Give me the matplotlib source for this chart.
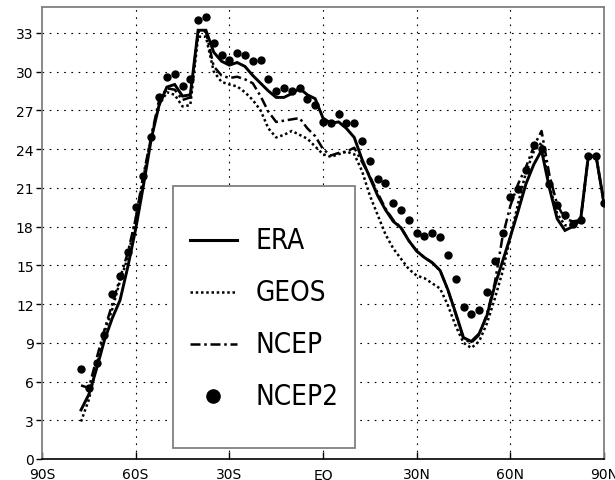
import numpy as np
import matplotlib
matplotlib.use("Agg")
import matplotlib.pyplot as plt
from matplotlib.patches import Rectangle
from matplotlib.lines import Line2D

# latitude grid (2.5 deg), 77.5S .. 90N
lats = np.arange(-77.5, 90.1, 2.5)

era = [3.8, 5.0, 7.0, 9.2, 10.9, 12.3, 14.9, 17.8, 21.2, 24.8,
       27.4, 28.8, 29.0, 28.1, 28.2, 33.2, 33.2, 31.5, 30.8, 30.5,
       30.7, 30.4, 29.7, 29.1, 28.5, 28.0, 28.0, 28.3, 28.7, 28.2,
       27.9, 26.4, 26.0, 26.1, 25.6, 24.9, 23.2, 21.8, 20.4, 19.3,
       18.4, 17.9, 16.9, 16.1, 15.6, 15.2, 14.6, 13.1, 11.3, 9.4,
       9.1, 9.7, 11.1, 13.4, 15.3, 17.2, 19.2, 21.3, 22.8, 23.9,
       21.0, 18.6, 17.7, 18.0, 18.5, 23.5, 23.4, 19.8]

geos = [2.9, 4.6, 7.2, 9.8, 11.6, 13.8, 15.6, 18.6, 21.8, 25.0,
        27.4, 28.4, 28.2, 27.3, 27.4, 32.7, 32.7, 30.0, 29.2, 29.0,
        28.85, 28.4, 27.8, 27.0, 25.6, 24.9, 25.1, 25.4, 25.1, 24.8,
        24.2, 23.6, 23.4, 23.6, 23.8, 23.6, 22.3, 20.4, 18.9, 17.4,
        16.3, 15.5, 14.7, 14.2, 14.0, 13.6, 13.2, 11.9, 10.3, 9.0,
        8.6, 9.1, 10.5, 12.4, 14.5, 17.2, 19.8, 22.2, 23.8, 24.5,
        21.2, 19.0, 18.1, 18.1, 18.4, 23.4, 23.4, 19.8]

ncep = [5.7, 5.5, 7.8, 10.0, 12.0, 14.0, 16.0, 18.6, 22.0, 25.0,
        27.8, 28.7, 28.6, 27.8, 28.0, 33.1, 33.1, 30.4, 29.7, 29.5,
        29.6, 29.4, 29.1, 28.1, 26.9, 26.1, 26.2, 26.3, 26.4, 25.6,
        25.0, 24.0, 23.5, 23.7, 23.8, 24.1, 23.0, 21.9, 20.6, 19.4,
        18.5, 17.9, 16.9, 16.1, 15.6, 15.2, 14.6, 13.1, 11.2, 9.3,
        9.0, 9.6, 11.2, 13.6, 17.2, 19.6, 21.3, 22.6, 24.2, 25.4,
        22.0, 19.7, 18.6, 18.4, 18.5, 23.5, 23.4, 19.8]

ncep2 = [7.0, 5.5, 7.4, 9.6, 12.8, 14.2, 16.0, 19.5, 21.9, 24.9,
         28.0, 29.6, 29.8, 28.9, 29.4, 34.0, 34.2, 32.2, 31.3, 30.9,
         31.4, 31.3, 30.85, 30.9, 29.4, 28.5, 28.7, 28.5, 28.7, 27.9,
         27.4, 26.1, 26.0, 26.7, 26.0, 26.0, 24.6, 23.1, 21.7, 21.35,
         19.8, 19.3, 18.5, 17.5, 17.3, 17.5, 17.2, 15.8, 13.9, 11.8,
         11.2, 11.5, 12.9, 15.3, 17.5, 20.3, 20.9, 22.4, 24.3, 24.0,
         21.3, 19.7, 18.9, 18.2, 18.5, 23.5, 23.5, 19.8]

xticks = [-90, -60, -30, 0, 30, 60, 90]
xlabels = ["90S", "60S", "30S", "EQ", "30N", "60N", "90N"]
yticks = list(range(0, 34, 3))
names = ["ERA", "GEOS", "NCEP", "NCEP2"]

W, H = 615, 481
fig = plt.figure(figsize=(W / 100, H / 100), dpi=100)
# axes box in pixels: x 42..604, y 8..460
ax = fig.add_axes([42 / W, (H - 460) / H, 562 / W, 452 / H])

grid_ls = (0, (1.5, 5))
for v in xticks[1:-1]:
    ax.axvline(v, color="black", lw=0.8, ls=grid_ls, zorder=1)
for v in yticks[1:]:
    ax.axhline(v, color="black", lw=0.8, ls=grid_ls, zorder=1)

ax.plot(lats, era, color="black", lw=2.1, solid_joinstyle="miter", zorder=3)
ax.plot(lats, geos, color="black", lw=1.8, ls=(0, (1, 1.1)), zorder=3)
ax.plot(lats, ncep, color="black", lw=1.8, ls=(0, (4, 1.5, 1, 1.5)), zorder=3)
ax.plot(lats, ncep2, "o", color="black", ms=5, zorder=4)

ax.set_xlim(-90, 90)
ax.set_ylim(0, 35)
ax.set_xticks(xticks)
ax.set_xticklabels(xlabels)
ax.set_yticks(yticks)
ax.tick_params(axis="x", direction="in", length=5, width=1, pad=6, labelsize=10)
ax.tick_params(axis="y", direction="out", length=4, width=1, pad=2, labelsize=10)
for s in ["left", "top", "right"]:
    ax.spines[s].set_color("#808080")
    ax.spines[s].set_linewidth(1.3)
ax.spines["bottom"].set_color("black")
ax.spines["bottom"].set_linewidth(1.2)

# legend box drawn by hand (pixel layout -> axes fraction)
def fx(px):
    return (px - 42) / 562

def fy(py):
    return (460 - py) / 452

ax.add_patch(Rectangle((fx(173), fy(449)), fx(355) - fx(173), fy(187) - fy(449),
                       transform=ax.transAxes, facecolor="white",
                       edgecolor="#808080", lw=1.3, zorder=5))
rows = [241, 293, 345, 397]
styles = [dict(ls="-", lw=2.2), dict(ls=(0, (1, 1.1)), lw=1.8),
          dict(ls=(0, (4, 1.5, 1, 1.5)), lw=1.8)]
for i, name in enumerate(names):
    yy = fy(rows[i])
    if i < 3:
        ax.add_line(Line2D([fx(190), fx(237)], [yy, yy], color="black",
                           transform=ax.transAxes, zorder=6, **styles[i]))
    else:
        ax.add_line(Line2D([fx(213)], [yy], marker="o", ms=9.5, color="black",
                           transform=ax.transAxes, zorder=6))
    ax.text(fx(256), yy, name, transform=ax.transAxes, va="center", ha="left",
            fontsize=20, family="DejaVu Sans", fontstretch="condensed",
            fontweight="light", zorder=7)

fig.savefig("out.png", dpi=100)
